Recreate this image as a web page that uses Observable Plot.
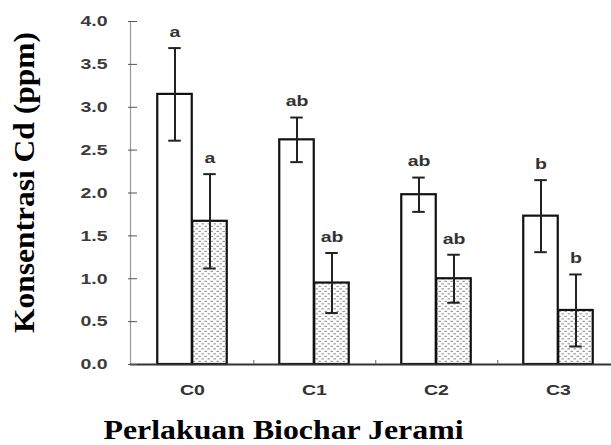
<!DOCTYPE html>
<html><head><meta charset="utf-8">
<script src="https://cdn.jsdelivr.net/npm/d3@7"></script>
<script src="https://cdn.jsdelivr.net/npm/@observablehq/plot@0.6"></script>
<style>
html,body{margin:0;padding:0;background:#fff;overflow:hidden;}
</style></head><body><div id="chart"></div>
<script>
// Data
const groups = ["C0", "C1", "C2", "C3"];
const whiteValues = [3.15, 2.62, 1.98, 1.73];
const whiteErrors = [0.54, 0.26, 0.20, 0.42];
const whiteLetters = ["a", "ab", "ab", "b"];
const dottedValues = [1.67, 0.95, 1.00, 0.63];
const dottedErrors = [0.55, 0.35, 0.28, 0.42];
const dottedLetters = ["a", "ab", "ab", "b"];
const yTicks = [0, 0.5, 1.0, 1.5, 2.0, 2.5, 3.0, 3.5, 4.0];
const yTitle = "Konsentrasi Cd (ppm)";
const xTitle = "Perlakuan Biochar Jerami";

const white = groups.map((g, i) => ({group: g, value: whiteValues[i], lo: whiteValues[i] - whiteErrors[i], hi: whiteValues[i] + whiteErrors[i], letter: whiteLetters[i]}));
const dotted = groups.map((g, i) => ({group: g, value: dottedValues[i], lo: Math.max(0, dottedValues[i] - dottedErrors[i]), hi: dottedValues[i] + dottedErrors[i], letter: dottedLetters[i]}));

const W = 611, H = 445;
const mL = 130, mR = -9, mT = 21, mB = 81;
const band = (W - mL - mR) / groups.length; // 122.5
const barW = band * 0.2857;                  // 35
const off = (band - 2 * barW) / 2;           // side gap
const capHalf = 6.5;
const cA = off + barW / 2, cB = off + 1.5 * barW;

const sansFont = '"Liberation Sans", Arial, sans-serif';
const serifFont = '"Liberation Serif", "Times New Roman", serif';

const plot = Plot.plot({
  width: W, height: H,
  marginLeft: mL, marginRight: mR, marginTop: mT, marginBottom: mB,
  style: {background: "#fff", overflow: "visible"},
  x: {domain: groups, padding: 0, axis: null},
  y: {domain: [0, 4], axis: null},
  marks: [
    Plot.barY(white, {x: "group", y: "value", insetLeft: off, insetRight: band - off - barW, fill: "#fff", stroke: "#111", strokeWidth: 2.2}),
    Plot.barY(dotted, {x: "group", y: "value", insetLeft: off + barW, insetRight: off, fill: "url(#dots)", stroke: "#111", strokeWidth: 2.2}),
    // error bars
    Plot.ruleX(white, {x: "group", y1: "lo", y2: "hi", dx: cA - band / 2, stroke: "#222", strokeWidth: 2}),
    Plot.ruleX(dotted, {x: "group", y1: "lo", y2: "hi", dx: cB - band / 2, stroke: "#222", strokeWidth: 2}),
    Plot.tickY(white, {x: "group", y: "hi", insetLeft: cA - capHalf, insetRight: band - cA - capHalf, stroke: "#222", strokeWidth: 2}),
    Plot.tickY(white, {x: "group", y: "lo", insetLeft: cA - capHalf, insetRight: band - cA - capHalf, stroke: "#222", strokeWidth: 2}),
    Plot.tickY(dotted, {x: "group", y: "hi", insetLeft: cB - capHalf, insetRight: band - cB - capHalf, stroke: "#222", strokeWidth: 2}),
    Plot.tickY(dotted, {x: "group", y: "lo", insetLeft: cB - capHalf, insetRight: band - cB - capHalf, stroke: "#222", strokeWidth: 2}),
    // letters
    Plot.text(white, {x: "group", y: "hi", text: "letter", dx: cA - band / 2, dy: -16, fontSize: 15, fontWeight: "bold", fontFamily: sansFont, fill: "#333"}),
    Plot.text(dotted, {x: "group", y: "hi", text: "letter", dx: cB - band / 2, dy: -16, fontSize: 15, fontWeight: "bold", fontFamily: sansFont, fill: "#333"}),
    // axes
    Plot.frame({anchor: "left", stroke: "#999", strokeWidth: 1.2}),
    Plot.ruleY([0], {stroke: "#333", strokeWidth: 2}),
    Plot.axisY({ticks: yTicks, tickSize: 9, dx: 7, text: null, label: null, stroke: "#555"}),
    Plot.axisY({ticks: yTicks, tickSize: 0, tickPadding: 23, tickFormat: d3.format(".1f"), label: null, fontSize: 15, fontWeight: "bold", fontFamily: sansFont, fill: "#3c3c3c"}),
    Plot.axisX({ticks: groups.slice(0, 3), tickSize: 4, dx: band / 2, dy: -4, text: null, label: null, stroke: "#666"}),
    Plot.axisX({tickSize: 0, tickPadding: 20, label: null, fontSize: 15, fontWeight: "bold", fontFamily: sansFont, fill: "#333"}),
    // titles
    Plot.text([yTitle], {frameAnchor: "left", rotate: -90, dx: 24 - mL, dy: -10.5, textAnchor: "middle", lineAnchor: "middle", fontSize: 29, fontWeight: "bold", fontFamily: serifFont, fill: "#000"}),
    Plot.text([xTitle], {frameAnchor: "bottom-left", dx: 103 - mL, dy: 66, textAnchor: "start", lineAnchor: "middle", fontSize: 28, fontWeight: "bold", fontFamily: serifFont, fill: "#000"})
  ]
});

document.getElementById("chart").appendChild(plot);

// dotted fill pattern
const svg = d3.select(plot);
const defs = svg.insert("defs", ":first-child");
const pat = defs.append("pattern").attr("id", "dots").attr("patternUnits", "userSpaceOnUse").attr("width", 6).attr("height", 5);
pat.append("rect").attr("width", 6).attr("height", 5).attr("fill", "#fff");
pat.append("rect").attr("x", 0.5).attr("y", 0.8).attr("width", 2.4).attr("height", 1.1).attr("fill", "#8c8c8c");
pat.append("rect").attr("x", 3.5).attr("y", 3.3).attr("width", 2.4).attr("height", 1.1).attr("fill", "#8c8c8c");

// horizontal stretch of the text as in the reference picture
svg.selectAll("text").each(function () {
  const t = this.textContent;
  const len = this.getComputedTextLength();
  let target = len * 1.3;
  if (t === yTitle) target = 301;
  else if (t === xTitle) target = 360;
  this.setAttribute("textLength", target);
  this.setAttribute("lengthAdjust", "spacingAndGlyphs");
});
</script>
</body></html>
